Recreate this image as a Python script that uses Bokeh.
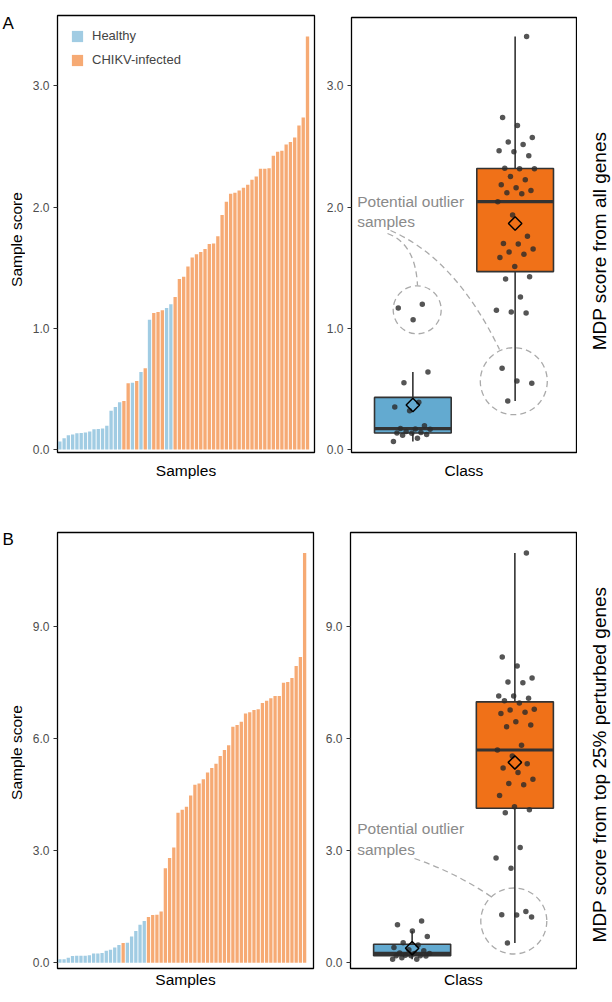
import math
from bokeh.plotting import figure
from bokeh.models import (Range1d, FixedTicker, NumeralTickFormatter, Label, Legend,
                          LegendItem)
from bokeh.layouts import column, row
from bokeh.embed import file_html
from bokeh.resources import INLINE

REG = "Liberation Sans"

# ---------------- data ----------------
class_names = ["Healthy", "CHIKV-infected"]
class_codes = ["H", "C"]
box_colors = ["#63aad0", "#f07118"]

# Panel A: MDP score from all genes (samples sorted by score)
scores_a = [0.066, 0.093, 0.118, 0.124, 0.135, 0.137, 0.14, 0.148, 0.168, 0.17,
            0.173, 0.195, 0.32, 0.35, 0.39, 0.40, 0.547, 0.55, 0.566, 0.64,
            0.67, 1.07, 1.126, 1.135, 1.148, 1.168, 1.198, 1.258, 1.407, 1.426,
            1.51, 1.585, 1.61, 1.63, 1.655, 1.695, 1.70, 1.76, 1.935, 2.045,
            2.11, 2.118, 2.137, 2.159, 2.184, 2.225, 2.252, 2.316, 2.316, 2.32,
            2.423, 2.456, 2.465, 2.516, 2.538, 2.574, 2.673, 2.739, 3.408]
groups_a = list("HHHHHHHHHHHHHHH" "CCHCHCH" "CCC" "HH" "CCCCCCCCCCCCCCCCCCCCCCCCCCCCCCCC")

# Panel B: MDP score from top 25% perturbed genes
scores_b = [0.098, 0.098, 0.134, 0.18, 0.19, 0.19, 0.19, 0.205, 0.25, 0.25,
            0.26, 0.32, 0.35, 0.41, 0.48, 0.53, 0.54, 0.705, 0.85, 1.02,
            1.12, 1.23, 1.28, 1.29, 1.375, 2.53, 2.81, 3.09, 4.02, 4.10,
            4.18, 4.48, 4.77, 4.80, 4.92, 5.10, 5.22, 5.33, 5.54, 5.70,
            5.83, 6.32, 6.37, 6.46, 6.68, 6.71, 6.77, 6.79, 6.96, 7.02,
            7.09, 7.15, 7.15, 7.50, 7.52, 7.63, 7.95, 8.19, 10.98]
groups_b = list("HHHHHHHHHHHHHHH" "C" "HHHHH" "CCCCCCCCCCCCCCCCCCCCCCCCCCCCCCCCCCCCCC")

ticks_a = [0, 1, 2, 3]
ticks_b = [0, 3, 6, 9]
panel_tags = ["A", "B"]
y_title = "Sample score"
side_titles = ["MDP score from all genes", "MDP score from top 25% perturbed genes"]


# ---------------- helpers ----------------
def plain_axis(ax):
    ax.ticker = FixedTicker(ticks=[])
    ax.major_tick_out = 0
    ax.major_tick_in = 0
    ax.minor_tick_out = 0
    ax.minor_tick_in = 0
    ax.major_label_standoff = 0
    ax.axis_line_color = None
    ax.major_tick_line_color = None
    ax.minor_tick_line_color = None


def base_fig(width, height, xr, yr, mb, yticks, xlabel, xstand):
    p = figure(width=width, height=height, x_range=Range1d(*xr), y_range=Range1d(*yr),
               output_backend="svg", toolbar_location=None, frame_align=False,
               min_border_left=mb[0], min_border_right=mb[1],
               min_border_top=mb[2], min_border_bottom=mb[3])
    p.grid.visible = False
    p.outline_line_color = "black"
    p.outline_line_width = 1.3
    p.outline_line_alpha = 1.0
    p.background_fill_color = "white"
    p.border_fill_color = "white"
    xa = p.xaxis[0]
    plain_axis(xa)
    xa.axis_label = xlabel
    xa.axis_label_standoff = xstand
    xa.axis_label_text_font = REG
    xa.axis_label_text_font_size = "15.5px"
    xa.axis_label_text_font_style = "normal"
    xa.axis_label_text_color = "black"
    ya = p.yaxis[0]
    ya.ticker = FixedTicker(ticks=yticks)
    ya.formatter = NumeralTickFormatter(format="0.0")
    ya.major_tick_out = 4
    ya.major_tick_in = 0
    ya.minor_tick_line_color = None
    ya.major_tick_line_color = "#333333"
    ya.major_tick_line_width = 1.2
    ya.axis_line_color = None
    ya.major_label_standoff = 4
    ya.major_label_text_font = REG
    ya.major_label_text_font_size = "12px"
    ya.major_label_text_color = "#4d4d4d"
    return p


def text_strip(width, height):
    # blank strip whose frame fills the whole figure; y measured in px from its top
    s = figure(width=width, height=height, x_range=Range1d(0, width),
               y_range=Range1d(height, 0), output_backend="svg", toolbar_location=None,
               frame_align=False, min_border_left=0, min_border_right=0,
               min_border_top=0, min_border_bottom=0)
    s.grid.visible = False
    s.axis.visible = False
    s.outline_line_color = None
    s.background_fill_color = "white"
    s.border_fill_color = "white"
    return s


def add_label(p, x, y, text, size, color, align="left", baseline="alphabetic", angle=0.0):
    p.add_layout(Label(x=x, y=y, text=text, text_font=REG, text_font_size=size,
                       text_color=color, text_align=align, text_baseline=baseline,
                       angle=angle))


def bar_panel(p, scores, groups):
    idx = list(range(1, len(scores) + 1))
    rends = []
    for code, col in zip(class_codes, box_colors):
        xs = [i for i, g in zip(idx, groups) if g == code]
        ys = [s for s, g in zip(scores, groups) if g == code]
        r = p.vbar(x=xs, top=ys, bottom=0, width=0.78, fill_color=col, fill_alpha=0.6,
                   line_color=None)
        rends.append(r)
    return rends


def qtl(s, q):
    pos = (len(s) - 1) * q
    lo = int(math.floor(pos))
    hi = min(lo + 1, len(s) - 1)
    return s[lo] + (s[hi] - s[lo]) * (pos - lo)


def box_panel(p, scores, groups):
    xs, q1s, q3s, meds, los, his, means = [], [], [], [], [], [], []
    px, py = [], []
    for k, code in enumerate(class_codes):
        vals = [s for s, g in zip(scores, groups) if g == code]
        s = sorted(vals)
        q1, med, q3 = qtl(s, 0.25), qtl(s, 0.5), qtl(s, 0.75)
        iqr = q3 - q1
        lo = min(v for v in s if v >= q1 - 1.5 * iqr)
        hi = max(v for v in s if v <= q3 + 1.5 * iqr)
        xc = k + 1
        xs.append(xc); q1s.append(q1); q3s.append(q3); meds.append(med)
        los.append(lo); his.append(hi); means.append(sum(s) / len(s))
        for j, v in enumerate(vals):
            off = (((j * 0.6180339887 + 0.31 * k) % 1.0) - 0.5) * 0.38
            px.append(xc + off)
            py.append(v)
    hw = 0.375
    p.segment(x0=xs, y0=q3s, x1=xs, y1=his, line_color="#333333", line_width=1.6)
    p.segment(x0=xs, y0=los, x1=xs, y1=q1s, line_color="#333333", line_width=1.6)
    p.vbar(x=xs, bottom=q1s, top=q3s, width=2 * hw, fill_color=box_colors,
           line_color="#333333", line_width=1.6)
    p.segment(x0=[x - hw for x in xs], y0=meds, x1=[x + hw for x in xs], y1=meds,
              line_color="#333333", line_width=3.2)
    p.scatter(x=px, y=py, size=5.5, marker="circle", fill_color="#2b2b2b",
              line_color=None, fill_alpha=0.8)
    p.scatter(x=xs, y=means, marker="square", angle=math.pi / 4, size=9.5,
              fill_color=None, line_color="black", line_width=1.5)


DASH = dict(line_color="#aaaaaa", line_dash="6 4", line_width=1.3)
NOTE = "#8a8a8a"
ROT = math.pi / 2

# ================= Panel A (row height 520) =================
# bar chart frame: page x 57..314, y 15..452 ; zero at y=449, 121.2 px/unit
pa_x0, pa_ppx = 0.45, 4.27
pa_y0px, pa_ppy = 449.0, 121.2
fyA = lambda py: (pa_y0px - py) / pa_ppy

tA = text_strip(25, 520)
add_label(tA, 2, 13, panel_tags[0], "17px", "black", baseline="top")
add_label(tA, 16, 239, y_title, "15.5px", "black", align="center", baseline="middle", angle=ROT)

pA_bar = base_fig(295, 520, (pa_x0, pa_x0 + 257 / pa_ppx),
                  (fyA(452), fyA(15)), (32, 6, 15, 68), ticks_a, "Samples", 9)
rA = bar_panel(pA_bar, scores_a, groups_a)
leg = Legend(items=[LegendItem(label=class_names[0], renderers=[rA[0]]),
                    LegendItem(label=class_names[1], renderers=[rA[1]])],
             location="top_left")
leg.margin = 13
leg.padding = 0
leg.spacing = 9
leg.glyph_width = 14
leg.glyph_height = 14
leg.label_height = 14
leg.label_standoff = 8
leg.label_text_font = REG
leg.label_text_font_size = "13px"
leg.background_fill_alpha = 0
leg.border_line_color = None
pA_bar.add_layout(leg)

# box plot frame: page x 351..576, y 17..452
fxAbox = lambda px: 0.4 + (px - 351) / (225 / 2.2)
pA_box = base_fig(257, 520, (0.4, 2.6), (fyA(452), fyA(17)), (31, 1, 17, 68),
                  ticks_a, "Class", 9)
pA_box.scatter(x=[fxAbox(416.7), fxAbox(513.3)], y=[fyA(309.3), fyA(380.7)],
               size=[48, 67], marker="circle", fill_color=None, **DASH)
pA_box.quadratic(x0=[fxAbox(387)], y0=[fyA(233)], x1=[fxAbox(417)], y1=[fyA(285)],
                 cx=[fxAbox(415)], cy=[fyA(243)], **DASH)
pA_box.quadratic(x0=[fxAbox(390)], y0=[fyA(230)], x1=[fxAbox(499)], y1=[fyA(349)],
                 cx=[fxAbox(455)], cy=[fyA(258)], **DASH)
box_panel(pA_box, scores_a, groups_a)
add_label(pA_box, fxAbox(356.7), fyA(200.5), "Potential outlier", "15.5px", NOTE)
add_label(pA_box, fxAbox(356.7), fyA(221), "samples", "15.5px", NOTE)

sA = text_strip(35, 520)
add_label(sA, 22, 240.5, side_titles[0], "19px", "black", align="center",
          baseline="middle", angle=ROT)

# ================= Panel B (row height 482, starts at page y 520) =================
pb_x0, pb_ppx = 0.44, 4.22
pb_y0px, pb_ppy = 962.3, 37.33
fyB = lambda py: (pb_y0px - py) / pb_ppy

tB = text_strip(25, 482)
add_label(tB, 2, 529 - 520, panel_tags[1], "17px", "black", baseline="top")
add_label(tB, 16, 752 - 520, y_title, "15.5px", "black", align="center", baseline="middle", angle=ROT)

pB_bar = base_fig(295, 482, (pb_x0, pb_x0 + 256 / pb_ppx),
                  (fyB(968), fyB(532)), (32, 7, 12, 34), ticks_b, "Samples", 2)
bar_panel(pB_bar, scores_b, groups_b)

fxBbox = lambda px: 0.4 + (px - 350) / (226 / 2.2)
pB_box = base_fig(257, 482, (0.4, 2.6), (fyB(968), fyB(532)), (30, 1, 12, 34),
                  ticks_b, "Class", 2)
pB_box.scatter(x=[fxBbox(513.3)], y=[fyB(920.5)], size=66, marker="circle",
               fill_color=None, **DASH)
pB_box.quadratic(x0=[fxBbox(414)], y0=[fyB(858)], x1=[fxBbox(492)], y1=[fyB(897)],
                 cx=[fxBbox(455)], cy=[fyB(872)], **DASH)
box_panel(pB_box, scores_b, groups_b)
add_label(pB_box, fxBbox(356.7), fyB(828), "Potential outlier", "15.5px", NOTE)
add_label(pB_box, fxBbox(356.7), fyB(849), "samples", "15.5px", NOTE)

sB = text_strip(35, 482)
add_label(sB, 22, 764 - 520, side_titles[1], "19px", "black", align="center",
          baseline="middle", angle=ROT)

layout = column(row(tA, pA_bar, pA_box, sA), row(tB, pB_bar, pB_box, sB))
open("out.html", "w").write(file_html(layout, INLINE))
